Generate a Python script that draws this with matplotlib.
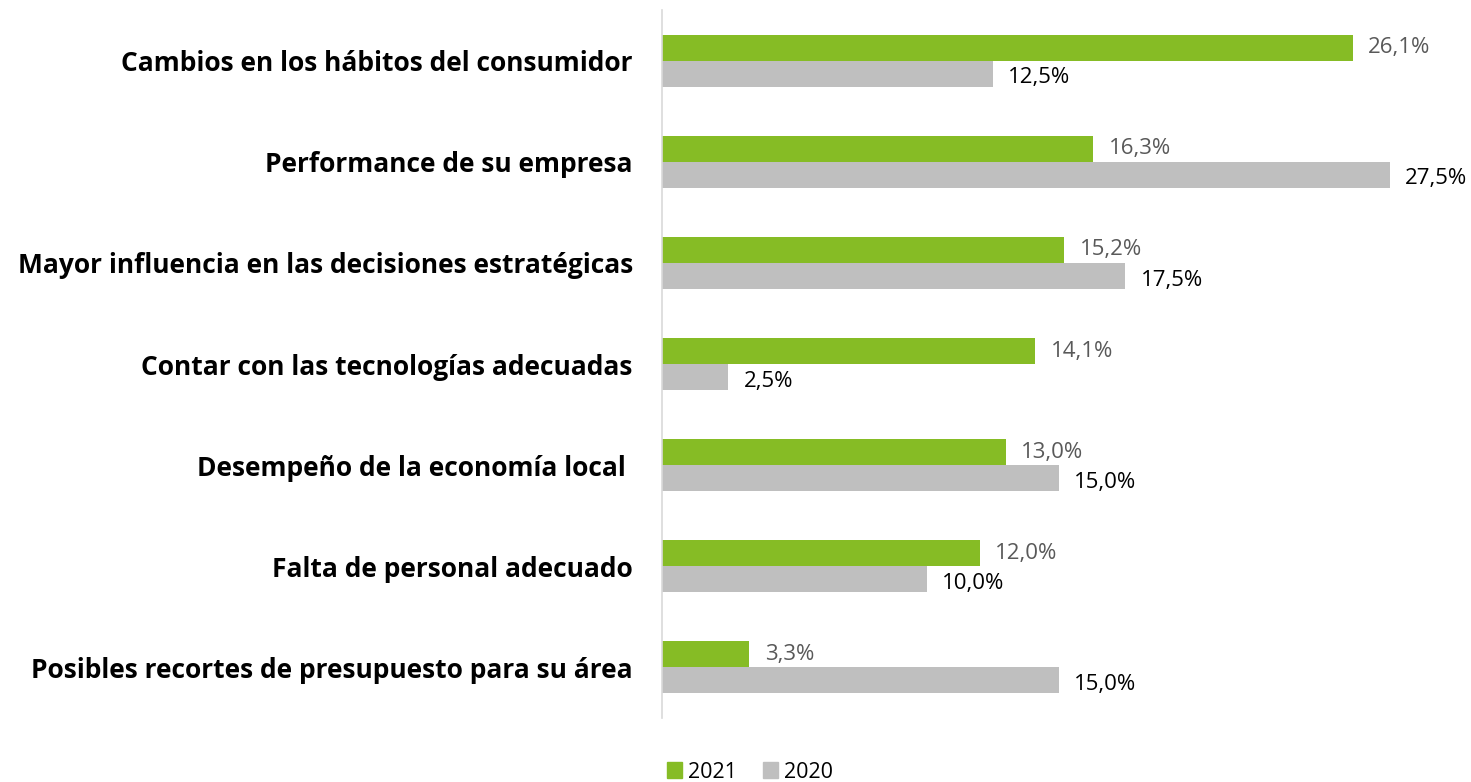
import matplotlib

matplotlib.use("Agg")
import matplotlib.pyplot as plt
from matplotlib.patches import Patch

categories = [
    "Cambios en los hábitos del consumidor",
    "Performance de su empresa",
    "Mayor influencia en las decisiones estratégicas",
    "Contar con las tecnologías adecuadas",
    "Desempeño de la economía local ",
    "Falta de personal adecuado",
    "Posibles recortes de presupuesto para su área",
]
vals_2021 = [26.1, 16.3, 15.2, 14.1, 13.0, 12.0, 3.3]
vals_2020 = [12.5, 27.5, 17.5, 2.5, 15.0, 10.0, 15.0]
series_names = ["2021", "2020"]

GREEN, GREY = "#86BC25", "#BFBFBF"
FONT = ["Open Sans", "DejaVu Sans"]

fig = plt.figure(figsize=(14.71, 7.82), dpi=100)
ax = fig.add_axes([662 / 1471, 1 - 718 / 782, 1 - 662 / 1471, 708 / 782])

h = 0.257
ys = list(range(len(categories)))
ax.barh([y - h / 2 for y in ys], vals_2021, height=h, color=GREEN)
ax.barh([y + h / 2 for y in ys], vals_2020, height=h, color=GREY)

for y, v in zip(ys, vals_2021):
    ax.annotate(f"{v:.1f}%".replace(".", ","), (v, y - h / 2), xytext=(11, 0),
                textcoords="offset points", va="center", ha="left",
                fontsize=16, color="#595959", family=FONT)
for y, v in zip(ys, vals_2020):
    ax.annotate(f"{v:.1f}%".replace(".", ","), (v, y + h / 2), xytext=(11, -3),
                textcoords="offset points", va="center", ha="left",
                fontsize=16, color="#000000", family=FONT)

ax.set_xlim(0, (1471 - 662) / 26.47)
ax.set_ylim(len(categories) - 0.5, -0.5)
ax.set_yticks(ys)
ax.set_yticklabels(categories, fontsize=19, fontweight="bold", family=FONT)
ax.tick_params(axis="y", length=0, pad=21)
ax.set_xticks([])
for s in ["top", "right", "bottom"]:
    ax.spines[s].set_visible(False)
ax.spines["left"].set_color("#D9D9D9")
ax.spines["left"].set_linewidth(1.2)

handles = [Patch(color=GREEN), Patch(color=GREY)]
fig.legend(handles, series_names, loc="center", bbox_to_anchor=(750 / 1471, 1 - 772 / 782),
           ncol=2, frameon=False, prop={"family": FONT, "size": 15.5},
           handlelength=0.7, handleheight=0.7, handletextpad=0.3, columnspacing=1.2)

fig.savefig("out.png", dpi=100)
